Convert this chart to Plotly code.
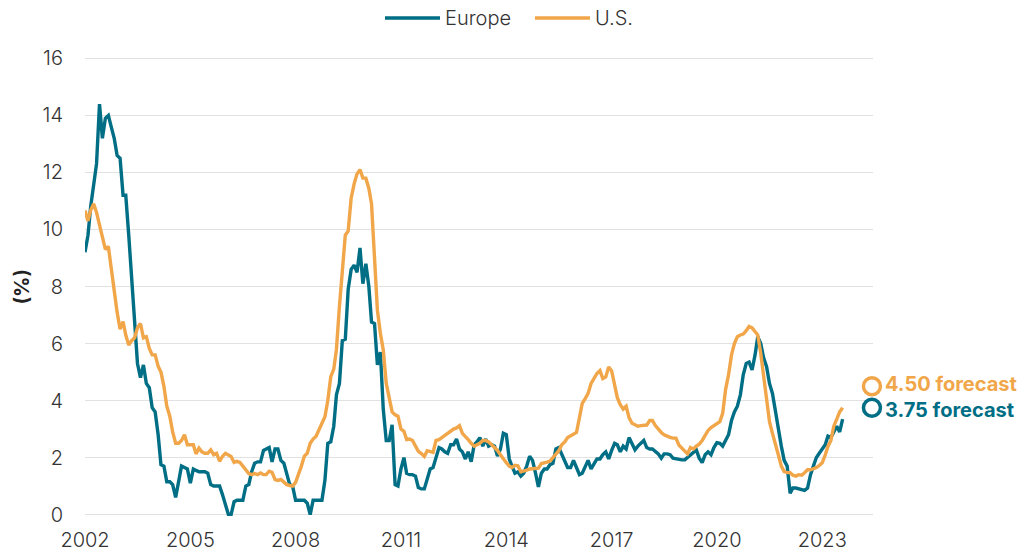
import pandas as pd
import plotly.graph_objects as go

# Monthly default rates (%), Jan 2002 - Aug 2023
europe = [
    9.2, 9.8, 10.8, 11.6, 12.3, 14.4, 13.2, 13.9, 14.0, 13.6, 13.2, 12.6,   # 2002
    12.5, 11.2, 11.2, 9.8, 8.3, 6.6, 5.3, 4.8, 5.25, 4.6, 4.45, 3.75,       # 2003
    3.6, 2.8, 1.75, 1.7, 1.15, 1.15, 1.05, 0.6, 1.1, 1.7, 1.65, 1.6,        # 2004
    1.1, 1.6, 1.55, 1.5, 1.5, 1.5, 1.45, 1.05, 1.0, 1.0, 1.0, 0.7,          # 2005
    0.3, 0.0, 0.0, 0.45, 0.5, 0.5, 0.5, 1.0, 1.05, 1.5, 1.8, 1.85,          # 2006
    1.85, 2.25, 2.3, 2.35, 1.85, 2.3, 2.3, 1.9, 1.8, 1.45, 1.05, 1.0,       # 2007
    0.5, 0.5, 0.5, 0.5, 0.4, 0.0, 0.5, 0.5, 0.5, 0.5, 1.2, 2.5,             # 2008
    2.55, 3.1, 4.2, 4.6, 6.1, 6.15, 7.9, 8.6, 8.75, 8.5, 9.35, 8.1,         # 2009
    8.8, 8.0, 6.75, 6.7, 5.25, 5.7, 3.7, 2.6, 2.6, 3.15, 1.05, 1.0,         # 2010
    1.6, 2.0, 1.45, 1.4, 1.4, 1.35, 0.95, 0.9, 0.9, 1.3, 1.6, 1.65,         # 2011
    2.0, 2.35, 2.3, 2.2, 2.15, 2.45, 2.45, 2.65, 2.3, 2.2, 1.95, 2.2,       # 2012
    1.85, 2.45, 2.55, 2.7, 2.4, 2.65, 2.4, 2.45, 2.4, 2.05, 2.3, 2.85,      # 2013
    2.8, 1.95, 1.7, 1.45, 1.5, 1.35, 1.45, 1.7, 2.05, 1.9, 1.45, 0.97,      # 2014
    1.45, 1.6, 1.6, 1.75, 1.8, 2.3, 2.35, 2.1, 1.85, 1.65, 1.65, 1.9,       # 2015
    1.65, 1.4, 1.45, 1.65, 1.9, 1.6, 1.75, 1.95, 1.95, 2.1, 2.2, 1.95,      # 2016
    2.25, 2.5, 2.45, 2.2, 2.4, 2.3, 2.7, 2.5, 2.27, 2.4, 2.5, 2.6,          # 2017
    2.35, 2.3, 2.3, 2.2, 2.13, 1.98, 2.13, 2.13, 2.1, 1.98, 1.95, 1.95,     # 2018
    1.92, 1.92, 2.0, 2.1, 2.17, 2.27, 1.98, 1.82, 2.1, 2.2, 2.1, 2.35,      # 2019
    2.52, 2.5, 2.4, 2.6, 2.8, 3.3, 3.6, 3.8, 4.2, 4.9, 5.3, 5.35,           # 2020
    5.07, 5.6, 6.24, 6.0, 5.5, 5.19, 4.6, 4.25, 3.6, 3.1, 2.4, 1.9,         # 2021
    1.7, 0.75, 0.93, 0.93, 0.9, 0.87, 0.85, 0.93, 1.4, 1.7, 2.0, 2.15,      # 2022
    2.3, 2.45, 2.75, 2.7, 2.9, 3.1, 2.9, 3.35,                              # 2023
]

us = [
    10.67, 10.3, 10.67, 10.9, 10.6, 10.2, 9.8, 9.3, 9.4, 8.6, 7.8, 7.1,     # 2002
    6.5, 6.77, 6.3, 5.95, 6.1, 6.2, 6.55, 6.7, 6.2, 6.24, 5.83, 5.6,        # 2003
    5.6, 5.2, 5.0, 4.5, 3.8, 3.45, 2.9, 2.5, 2.5, 2.6, 2.8, 2.45,           # 2004
    2.45, 2.45, 2.13, 2.33, 2.2, 2.15, 2.15, 2.27, 2.1, 2.15, 1.87, 2.04,   # 2005
    2.15, 2.1, 2.04, 1.83, 1.87, 1.83, 1.7, 1.6, 1.44, 1.4, 1.44, 1.4,      # 2006
    1.46, 1.4, 1.4, 1.52, 1.48, 1.23, 1.2, 1.23, 1.13, 1.05, 1.02, 1.0,     # 2007
    1.13, 1.4, 1.7, 2.05, 2.15, 2.5, 2.65, 2.75, 2.98, 3.2, 3.43, 4.0,      # 2008
    4.84, 5.1, 5.8, 7.3, 8.6, 9.8, 9.95, 11.1, 11.6, 11.95, 12.1, 11.8,     # 2009
    11.8, 11.44, 10.9, 9.16, 7.17, 6.36, 5.77, 4.6, 4.02, 3.6, 3.5, 3.45,   # 2010
    3.0, 2.92, 2.63, 2.65, 2.6, 2.4, 2.22, 2.14, 2.04, 2.24, 2.22, 2.18,    # 2011
    2.6, 2.63, 2.7, 2.78, 2.85, 2.95, 3.0, 3.04, 3.12, 2.85, 2.75, 2.63,    # 2012
    2.5, 2.4, 2.45, 2.5, 2.6, 2.6, 2.55, 2.45, 2.36, 2.25, 2.1, 1.95,       # 2013
    1.82, 1.7, 1.65, 1.73, 1.71, 1.5, 1.52, 1.56, 1.6, 1.61, 1.61, 1.63,    # 2014
    1.79, 1.81, 1.84, 1.88, 2.0, 2.14, 2.24, 2.45, 2.55, 2.7, 2.76, 2.84,   # 2015
    2.88, 3.4, 3.9, 4.07, 4.25, 4.6, 4.8, 4.95, 5.05, 4.77, 4.83, 5.18,     # 2016
    5.04, 4.5, 4.1, 3.85, 3.7, 3.8, 3.4, 3.2, 3.14, 3.1, 3.12, 3.14,        # 2017
    3.14, 3.3, 3.3, 3.12, 2.98, 2.88, 2.8, 2.74, 2.71, 2.68, 2.68, 2.44,    # 2018
    2.33, 2.21, 2.13, 2.35, 2.3, 2.4, 2.47, 2.6, 2.8, 2.95, 3.05, 3.12,     # 2019
    3.2, 3.26, 3.55, 4.4, 4.9, 5.6, 6.0, 6.24, 6.3, 6.33, 6.45, 6.6,        # 2020
    6.55, 6.42, 6.3, 5.66, 4.84, 4.02, 3.26, 2.85, 2.5, 2.1, 1.7, 1.51,     # 2021
    1.47, 1.47, 1.38, 1.35, 1.4, 1.38, 1.47, 1.57, 1.57, 1.6, 1.65, 1.72,   # 2022
    1.82, 2.09, 2.39, 2.6, 3.1, 3.35, 3.6, 3.75,                            # 2023
]

dates = pd.date_range("2002-01-01", periods=len(europe), freq="MS")

forecast_date = "2024-06-01"
forecast_us = 4.50
forecast_europe = 3.75
forecast_labels = ["4.50 forecast", "3.75 forecast"]

series_names = ["Europe", "U.S."]
y_ticks = [0, 2, 4, 6, 8, 10, 12, 14, 16]

TEAL = "#006E85"
ORANGE = "#F0A649"
FONT = "Inter"
TXT = "#333333"

fig = go.Figure()
fig.add_trace(go.Scatter(x=dates, y=europe, mode="lines", name=series_names[0],
                         line=dict(color=TEAL, width=3.4)))
fig.add_trace(go.Scatter(x=dates, y=us, mode="lines", name=series_names[1],
                         line=dict(color=ORANGE, width=3.4)))

# forecast markers
fig.add_trace(go.Scatter(x=[forecast_date], y=[forecast_us], mode="markers",
                         marker=dict(symbol="circle-open", size=17, color=ORANGE,
                                     line=dict(width=3.5, color=ORANGE)),
                         showlegend=False, cliponaxis=False, hoverinfo="skip"))
fig.add_trace(go.Scatter(x=[forecast_date], y=[forecast_europe], mode="markers",
                         marker=dict(symbol="circle-open", size=17, color=TEAL,
                                     line=dict(width=3.5, color=TEAL)),
                         showlegend=False, cliponaxis=False, hoverinfo="skip"))

fig.add_annotation(x=forecast_date, y=forecast_us + 0.08, text=forecast_labels[0],
                   showarrow=False, xanchor="left", yanchor="middle", xshift=11,
                   font=dict(family=FONT, size=20, color=ORANGE, weight=700))
fig.add_annotation(x=forecast_date, y=forecast_europe - 0.08, text=forecast_labels[1],
                   showarrow=False, xanchor="left", yanchor="middle", xshift=11,
                   font=dict(family=FONT, size=20, color=TEAL, weight=700))

fig.add_annotation(xref="paper", yref="paper", x=-0.08, y=0.5, text="(%)",
                   textangle=-90, showarrow=False, xanchor="center", yanchor="middle",
                   font=dict(family=FONT, size=20, color="#222222", weight=700))

# custom legend drawn above the plot (paper coordinates)
leg_y = 1.0847
legend_items = [(0.3807, 0.4505, TEAL, series_names[0]),
                (0.5710, 0.6409, ORANGE, series_names[1])]
for x0, x1, col, label in legend_items:
    fig.add_shape(type="line", xref="paper", yref="paper", x0=x0, x1=x1,
                  y0=leg_y, y1=leg_y, line=dict(color=col, width=3.5))
    fig.add_annotation(xref="paper", yref="paper", x=x1, y=leg_y, text=label,
                       showarrow=False, xanchor="left", yanchor="middle", xshift=3,
                       font=dict(family=FONT, size=20, color=TXT, weight=300))

fig.update_layout(
    width=1025, height=552,
    margin=dict(l=85, r=152, t=57, b=36),
    paper_bgcolor="white", plot_bgcolor="white",
    font=dict(family=FONT, size=20, color=TXT),
    showlegend=False,
    xaxis=dict(type="date", range=["2002-01-01", "2024-06-12"],
               tick0="2002-01-01", dtick="M36", tickformat="%Y",
               showgrid=False, zeroline=False, showline=False, ticks="",
               automargin=False, ticklabelstandoff=10,
               tickfont=dict(family=FONT, size=20, color=TXT, weight=300)),
    yaxis=dict(range=[-0.05, 16.05], tickvals=y_ticks,
               showgrid=True, gridcolor="#e2e2e2", gridwidth=1,
               zeroline=False, showline=False, ticks="",
               automargin=False, ticklabelstandoff=21,
               tickfont=dict(family=FONT, size=20, color=TXT, weight=300)),
)

fig.write_html("out.html", config={"displayModeBar": False},
               post_script="document.body.style.margin='0px';")
